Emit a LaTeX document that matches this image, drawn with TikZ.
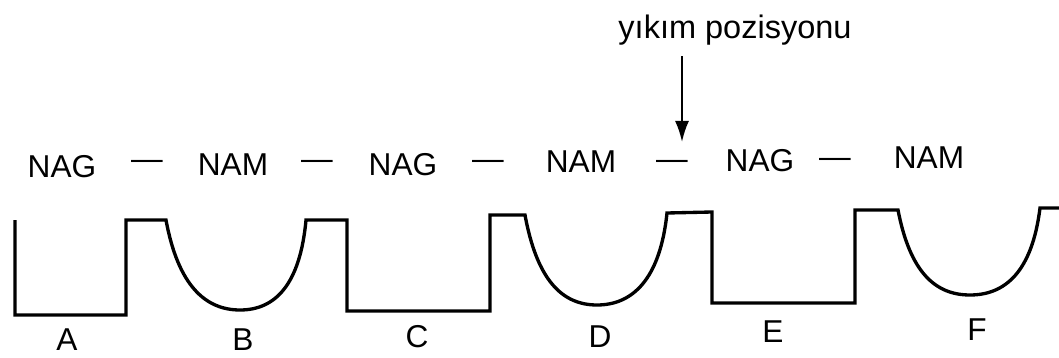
\documentclass[tikz,border=0pt]{standalone}
\usepackage{fontspec}
\setmainfont{Liberation Sans}
\usetikzlibrary{arrows.meta}
\begin{document}
\begin{tikzpicture}[x=0.02cm,y=-0.02cm,>={Latex[length=12pt,width=8pt]},
    etiq/.style={font=\fontsize{18}{20}\selectfont,inner sep=0pt},
    onda/.style={line width=1.9pt}]
    \useasboundingbox (0,0) rectangle (1059,358);
    % Cadena NAG -- NAM
    \node[etiq] (g1) at (62,167) {NAG};
    \node[etiq] (d1) at (147,165) {\textemdash};
    \node[etiq] (m1) at (233,165) {NAM};
    \node[etiq] (d2) at (317,165) {\textemdash};
    \node[etiq] (g2) at (403,165) {NAG};
    \node[etiq] (d3) at (488,165) {\textemdash};
    \node[etiq] (m2) at (581,162) {NAM};
    \node[etiq] (d4) at (672,165) {\textemdash};
    \node[etiq] (g3) at (760,161) {NAG};
    \node[etiq] (d5) at (835,163) {\textemdash};
    \node[etiq] (m3) at (929,158) {NAM};
    % Posicion de corte
    \node[etiq,font=\fontsize{18.5}{20}\selectfont] (corte) at (735,30) {yıkım pozisyonu};
    \coordinate (punta) at (682,142);
    \draw[->,line width=1.2pt,shorten <=6pt] (corte.south -| punta) -- (punta);
    % Perfil
    \draw[onda] (15,220) -- (15,315) -- (126,315) -- (126,220) -- (166,220)
      .. controls (178,285) and (205,310) .. (240,310)
      .. controls (275,310) and (300,285) .. (306,220)
      -- (347,220) -- (347,311) -- (490,311) -- (490,215) -- (525,215)
      .. controls (537,280) and (562,305) .. (597,305)
      .. controls (632,305) and (660,280) .. (667,213)
      -- (712,212) -- (712,303) -- (855,303) -- (855,210) -- (898,210)
      .. controls (910,272) and (935,295) .. (970,295)
      .. controls (1005,295) and (1032,272) .. (1040,208)
      -- (1059,208);
    % Sitios
    \node[etiq] (sa) at (67,340) {A};
    \node[etiq] (sb) at (243,340) {B};
    \node[etiq] (sc) at (417,337) {C};
    \node[etiq] (sd) at (600,337) {D};
    \node[etiq] (se) at (773,332) {E};
    \node[etiq] (sf) at (977,330) {F};
\end{tikzpicture}
\end{document}
